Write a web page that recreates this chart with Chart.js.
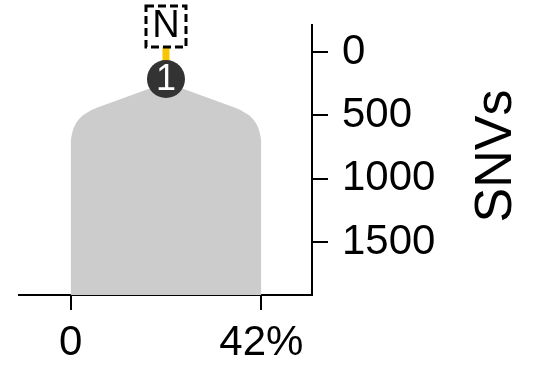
<!DOCTYPE html>
<html>
<head>
<meta charset="utf-8">
<script src="https://cdn.jsdelivr.net/npm/chart.js@4.4.1/dist/chart.umd.min.js"></script>
<style>
  html, body { margin: 0; padding: 0; background: #fff; }
  #wrap { width: 533px; height: 366px; }
</style>
</head>
<body>
<div id="wrap"><canvas id="chart"></canvas></div>
<script>
// clone outline (cancer cell fraction %, SNVs)
const shapeX = [0, 0, 0.11, 0.33, 0.66, 1.2, 1.86, 2.63, 3.5, 4.6, 5.9, 17.1, 21,
                24.9, 36.1, 37.4, 38.5, 39.37, 40.14, 40.8, 41.34, 41.67, 41.89, 42, 42];
const shapeY = [1918, 718, 679, 640, 600, 561, 529, 501, 482, 458, 438, 292, 253,
                292, 438, 458, 482, 501, 529, 561, 600, 640, 679, 718, 1918];

const xTicks = [0, 42];
const xTickLabels = ['0', '42%'];
const yTicks = [0, 500, 1000, 1500];
const yMin = -213;
const yMax = 1918;

// tree nodes
const rootX = [21];
const rootY = [-205];
const rootLabels = ['N'];
const cloneX = [21];
const cloneY = [213];
const cloneLabels = ['1'];

const FONT = "'Liberation Sans', Arial, sans-serif";

const shapeData = shapeX.map((x, i) => ({ x: x, y: shapeY[i] }));
const edgeData = [{ x: rootX[0], y: rootY[0] }, { x: cloneX[0], y: cloneY[0] }];
const cloneData = cloneX.map((x, i) => ({ x: x, y: cloneY[i] }));

const labelPlugin = {
  id: 'labels',
  afterDatasetsDraw(chart) {
    const ctx = chart.ctx;
    const xs = chart.scales.x, ys = chart.scales.y;
    ctx.save();
    // root node box
    rootX.forEach((v, i) => {
      const px = xs.getPixelForValue(v), py = ys.getPixelForValue(rootY[i]);
      ctx.fillStyle = '#fff';
      ctx.fillRect(px - 20, py - 20, 40, 41);
      ctx.setLineDash([8, 4]);
      ctx.lineWidth = 3;
      ctx.strokeStyle = '#000';
      ctx.strokeRect(px - 20, py - 20, 40, 41);
      ctx.setLineDash([]);
      ctx.fillStyle = '#000';
      ctx.font = '38px ' + FONT;
      ctx.textAlign = 'center';
      ctx.textBaseline = 'middle';
      ctx.fillText(rootLabels[i], px, py + 1);
    });
    // clone labels
    cloneX.forEach((v, i) => {
      const px = xs.getPixelForValue(v), py = ys.getPixelForValue(cloneY[i]);
      ctx.fillStyle = '#fff';
      ctx.font = '36px ' + FONT;
      ctx.textAlign = 'center';
      ctx.textBaseline = 'middle';
      ctx.fillText(cloneLabels[i], px, py + 1);
    });
    // y axis title, reading bottom to top
    const area = chart.chartArea;
    ctx.translate(chart.width - 36, (area.top + area.bottom) / 2 - 4);
    ctx.rotate(-Math.PI / 2);
    ctx.fillStyle = '#000';
    ctx.font = '52px ' + FONT;
    ctx.textAlign = 'center';
    ctx.textBaseline = 'middle';
    ctx.fillText('SNVs', 0, 0);
    ctx.restore();
  }
};

new Chart(document.getElementById('chart'), {
  type: 'line',
  data: {
    datasets: [
      {
        data: cloneData,
        showLine: false,
        pointRadius: 19,
        pointBackgroundColor: '#333333',
        pointBorderWidth: 0,
        order: 0,
      },
      {
        data: edgeData,
        borderColor: '#f7c600',
        borderWidth: 7,
        pointRadius: 0,
        fill: false,
        order: 1,
      },
      {
        data: shapeData,
        borderWidth: 0,
        pointRadius: 0,
        backgroundColor: '#cccccc',
        fill: { value: yMax },
        tension: 0,
        order: 2,
      },
    ],
  },
  options: {
    responsive: true,
    maintainAspectRatio: false,
    animation: false,
    layout: { padding: { left: 15, top: 25, right: 0, bottom: 0 } },
    plugins: {
      legend: { display: false },
      tooltip: { enabled: false },
    },
    scales: {
      x: {
        type: 'linear',
        min: -11.375,
        max: 53.16,
        afterBuildTicks: (scale) => { scale.ticks = xTicks.map(v => ({ value: v })); },
        afterFit: (scale) => {
          scale.height = 71;
          scale.paddingLeft = 0;
          scale.paddingRight = 0;
        },
        ticks: {
          autoSkip: false,
          maxRotation: 0,
          color: '#000',
          padding: 8,
          font: { size: 42, family: FONT },
          callback: (v) => xTickLabels[xTicks.indexOf(v)],
        },
        grid: { drawOnChartArea: false, drawTicks: true, tickLength: 15, color: '#000', lineWidth: 2 },
        border: { display: true, color: '#000', width: 2 },
      },
      y: {
        type: 'linear',
        position: 'right',
        reverse: true,
        min: yMin,
        max: yMax,
        afterBuildTicks: (scale) => { scale.ticks = yTicks.map(v => ({ value: v })); },
        afterFit: (scale) => {
          scale.width = 221;
          scale.paddingTop = 0;
          scale.paddingBottom = 0;
        },
        ticks: {
          color: '#000',
          padding: 14,
          font: { size: 42, family: FONT },
          callback: (v) => String(v),
        },
        grid: { drawOnChartArea: false, drawTicks: true, tickLength: 16, color: '#000', lineWidth: 2 },
        border: { display: true, color: '#000', width: 2 },
      },
    },
  },
  plugins: [labelPlugin],
});
</script>
</body>
</html>
